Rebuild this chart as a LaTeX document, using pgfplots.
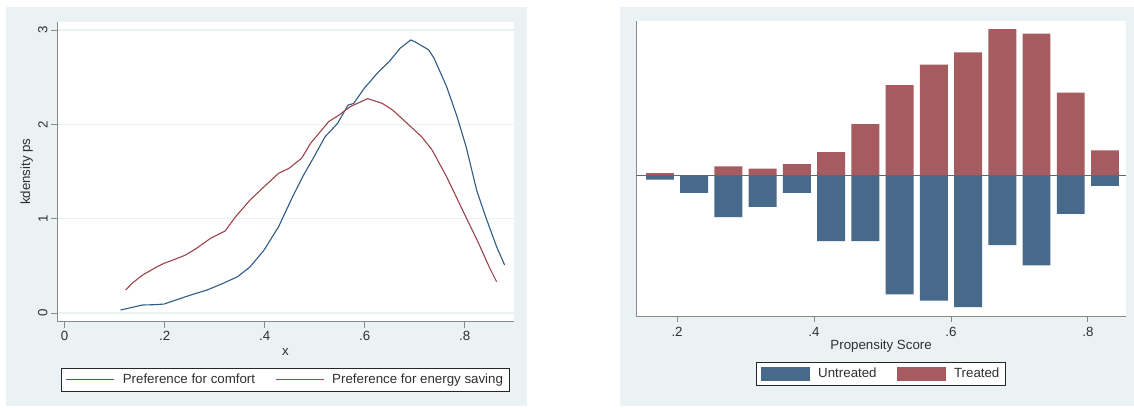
\documentclass[border=0pt]{standalone}
\usepackage{pgfplots}
\pgfplotsset{compat=1.18}
\usepackage{fontspec}
\setmainfont{Liberation Sans}
\definecolor{bgc}{HTML}{EAF2F3}
\definecolor{axisc}{HTML}{8A8A8A}
\definecolor{txtc}{HTML}{303030}
\definecolor{linblue}{HTML}{2F5B86}
\definecolor{linred}{HTML}{9E434B}
\definecolor{barblue}{HTML}{486A8A}
\definecolor{barred}{HTML}{A65B60}
\newcommand{\fs}{\fontsize{13.3}{16}\selectfont}
\pgfplotsset{common/.style={
  scale only axis,
  axis background/.style={fill=white},
  axis x line*=bottom, axis y line*=left,
  axis line style={-, draw=axisc, line width=0.9pt},
  tick style={draw=axisc, line width=0.8pt},
  tick align=outside, major tick length=6pt,
  tick label style={font=\fs, text=txtc},
  /pgf/number format/assume math mode=true,
  every axis x label/.style={at={(axis description cs:0.5,0)}, yshift=-30pt, anchor=center, font=\fs, text=txtc},
  legend style={at={(0.5,0)}, anchor=north, draw=black!85, line width=0.8pt, fill=white,
    legend columns=2, font=\fs, text=txtc, inner xsep=4.5pt, inner ysep=4pt,
    /tikz/every odd column/.append style={column sep=6pt},
    /tikz/every even column/.append style={column sep=18pt}},
}}
\begin{document}
\begin{tikzpicture}[x=1pt,y=1pt]
\fill[white] (0,0) rectangle (1134,407);
\fill[bgc] (6.4,1) rectangle (527,400);
\fill[bgc] (620,1) rectangle (1134,400);

\begin{axis}[common,
  at={(57.1pt,85.3pt)}, anchor=south west, width=456.5pt, height=300pt,
  xmin=-0.015, xmax=0.898, ymin=-0.092, ymax=3.088,
  xtick={0,0.2,0.4,0.6,0.8}, xticklabels={0,.2,.4,.6,.8},
  ytick={0,1,2,3}, yticklabels={0,1,2,3},
  yticklabel style={rotate=90, anchor=south},
  ymajorgrids, grid style={draw=bgc, line width=1.2pt},
  xlabel={x}, ylabel={kdensity ps},
  every axis y label/.style={at={(axis description cs:0,0.5)}, xshift=-30.3pt, rotate=90, anchor=center, font=\fs, text=txtc},
  legend style={yshift=-46pt},
]
\addplot[linblue, line width=1.1pt,
  legend image code/.code={\draw[draw=linblue, line width=1.1pt] (0pt,0pt) -- (48pt,0pt);}] coordinates {
(0.112,0.032) (0.135,0.06) (0.156,0.085) (0.178,0.088) (0.199,0.095) (0.221,0.135)
(0.242,0.173) (0.264,0.21) (0.285,0.244) (0.315,0.31) (0.346,0.385) (0.371,0.49)
(0.399,0.668) (0.428,0.915) (0.456,1.233) (0.478,1.463) (0.499,1.657) (0.521,1.869)
(0.546,2.011) (0.567,2.205) (0.578,2.22) (0.599,2.38) (0.628,2.558) (0.649,2.664)
(0.671,2.806) (0.692,2.894) (0.699,2.88) (0.728,2.79) (0.739,2.70) (0.764,2.40)
(0.785,2.08) (0.803,1.763) (0.824,1.304) (0.842,1.021) (0.864,0.703) (0.880,0.509)
};
\addlegendentry{Preference for comfort}
\addplot[linred, line width=1.1pt,
  legend image code/.code={\draw[draw=linred, line width=1.1pt] (0pt,0pt) -- (48pt,0pt);}] coordinates {
(0.122,0.244) (0.135,0.315) (0.156,0.403) (0.185,0.491) (0.199,0.527) (0.221,0.57)
(0.242,0.615) (0.264,0.686) (0.292,0.792) (0.321,0.869) (0.342,1.021) (0.371,1.198)
(0.399,1.339) (0.428,1.481) (0.449,1.534) (0.474,1.64) (0.492,1.799) (0.528,2.028)
(0.549,2.099) (0.571,2.187) (0.606,2.272) (0.635,2.223) (0.656,2.152) (0.685,2.011)
(0.714,1.869) (0.735,1.728) (0.764,1.445) (0.799,1.057) (0.828,0.739) (0.849,0.491)
(0.864,0.332)
};
\addlegendentry{Preference for energy saving}
\end{axis}

\begin{axis}[common,
  at={(636pt,91pt)}, anchor=south west, width=490.2pt, height=295.3pt,
  xmin=0.140, xmax=0.856, ymin=-4.23, ymax=4.65,
  xtick={0.2,0.4,0.6,0.8}, xticklabels={.2,.4,.6,.8},
  xticklabel style={yshift=-2pt},
  ytick=\empty,
  xlabel={Propensity Score},
  legend style={yshift=-45.7pt},
]
\addplot[ybar, bar width=0.0408, bar shift=0pt, fill=barblue, draw=none,
  legend image code/.code={\fill[barblue] (0pt,-7pt) rectangle (49.4pt,7pt);}] coordinates {
(0.175,-0.13) (0.225,-0.53) (0.275,-1.26) (0.325,-0.95) (0.375,-0.53) (0.425,-1.98)
(0.475,-1.98) (0.525,-3.58) (0.575,-3.77) (0.625,-3.96) (0.675,-2.10) (0.725,-2.71)
(0.775,-1.16) (0.825,-0.32)
};
\addlegendentry{Untreated}
\addplot[ybar, bar width=0.0408, bar shift=0pt, fill=barred, draw=none,
  legend image code/.code={\fill[barred] (0pt,-7pt) rectangle (49.4pt,7pt);}] coordinates {
(0.175,0.07) (0.225,0) (0.275,0.27) (0.325,0.20) (0.375,0.34) (0.425,0.70)
(0.475,1.54) (0.525,2.71) (0.575,3.33) (0.625,3.70) (0.675,4.40) (0.725,4.26)
(0.775,2.49) (0.825,0.75)
};
\addlegendentry{Treated}
\addplot[forget plot, black!60, line width=0.8pt] coordinates {(0.140,0) (0.856,0)};
\end{axis}
\end{tikzpicture}
\end{document}
